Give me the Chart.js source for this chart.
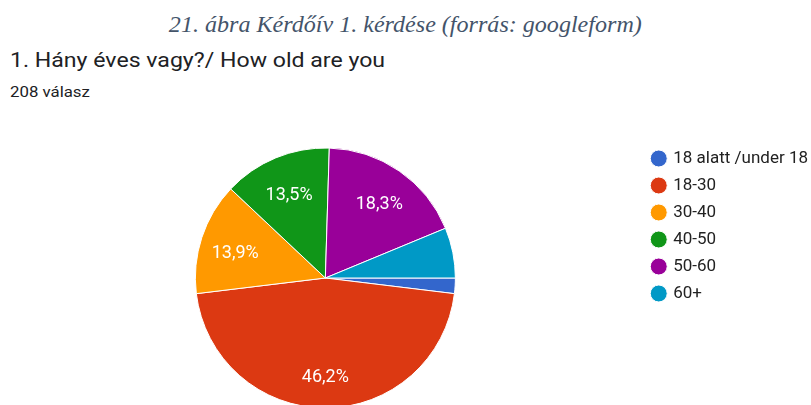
<!DOCTYPE html>
<html>
<head>
<meta charset="utf-8">
<script src="https://cdn.jsdelivr.net/npm/chart.js@4.4.1/dist/chart.umd.min.js"></script>
<style>
  html, body { margin: 0; padding: 0; background: #fff; overflow: hidden; width: 811px; height: 405px; }
  #caption { position: absolute; left: 0; width: 811px; top: 12px; text-align: center; white-space: nowrap;
    font-family: "Liberation Serif", serif; font-style: italic; font-size: 22.5px; color: #44546a;
    transform: scaleX(1.07); transform-origin: 408px 0; }
  #title { position: absolute; left: 10px; top: 48px; font-family: Roboto, sans-serif; font-size: 21px; color: #202124;
    white-space: nowrap; transform: scaleX(1.1); transform-origin: 0 0; }
  #sub { position: absolute; left: 10px; top: 83px; font-family: Roboto, sans-serif; font-size: 15px; color: #202124;
    white-space: nowrap; transform: scaleX(1.12); transform-origin: 0 0; }
  #chart { position: absolute; left: 0; top: 0; }
</style>
</head>
<body>
<div id="caption">21. ábra Kérdőív 1. kérdése (forrás: googleform)</div>
<div id="title">1. Hány éves vagy?/ How old are you</div>
<div id="sub">208 válasz</div>
<canvas id="chart" width="830" height="420"></canvas>
<script>
        // answers per age group (208 total)
        const ageGroups = ['18 alatt /under 18', '18-30', '30-40', '40-50', '50-60', '60+'];
        const answerCounts = [4, 96, 29, 28, 38, 13];
        const sliceColors = ['#3366cc', '#dc3912', '#ff9900', '#109618', '#990099', '#0099c6'];

        const totalAnswers = answerCounts.reduce((a, b) => a + b, 0);

        // percent text inside the bigger slices, like google forms does
        const sliceLabels = {
            id: 'sliceLabels',
            afterDatasetsDraw(chart) {
                const ctx = chart.ctx;
                const meta = chart.getDatasetMeta(0);
                ctx.save();
                ctx.fillStyle = '#ffffff';
                ctx.font = '18px Roboto';
                ctx.textAlign = 'center';
                ctx.textBaseline = 'middle';
                meta.data.forEach((arc, i) => {
                    const pct = answerCounts[i] / totalAnswers * 100;
                    if (pct < 10) return;
                    const mid = (arc.startAngle + arc.endAngle) / 2;
                    const r = arc.outerRadius * 0.73;
                    const x = arc.x + Math.cos(mid) * r;
                    const y = arc.y + Math.sin(mid) * r + 5;
                    ctx.fillText(pct.toFixed(1).replace('.', ',') + '%', x, y);
                });
                ctx.restore();
            }
        };

        const ctx = document.getElementById('chart').getContext('2d');
        var pieChart = new Chart(ctx, {
            type: 'pie',
            data: {
                labels: ageGroups,
                datasets: [
                    {
                        data: answerCounts,
                        backgroundColor: sliceColors,
                        borderColor: '#ffffff',
                        borderWidth: 1,
                    },
                ],
            },
            options: {
                responsive: false,
                animation: false,
                rotation: 90,
                radius: 130,
                layout: {
                    padding: { left: 8, right: 12, top: 140, bottom: 4 },
                },
                plugins: {
                    tooltip: { enabled: false },
                    legend: {
                        position: 'right',
                        align: 'start',
                        labels: {
                            usePointStyle: true,
                            pointStyle: 'circle',
                            boxWidth: 12,
                            boxHeight: 12,
                            padding: 10,
                            color: '#222222',
                            font: { family: 'Roboto', size: 17 },
                        },
                    },
                },
            },
            plugins: [sliceLabels],
        });
</script>
</body>
</html>
